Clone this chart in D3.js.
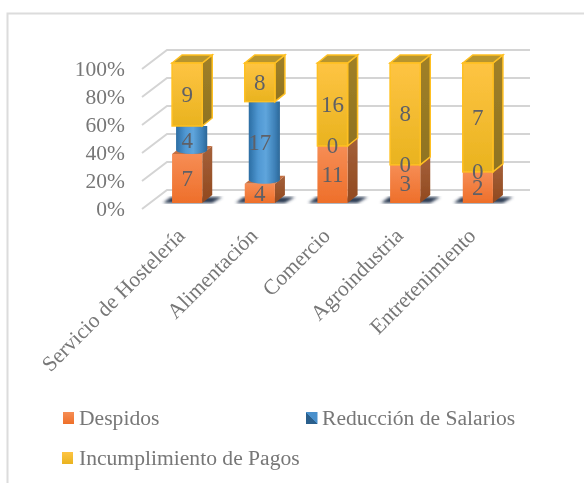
<!DOCTYPE html>
<html>
<head>
<meta charset="utf-8">
<script src="https://cdn.jsdelivr.net/npm/d3@7"></script>
<style>
  html, body { margin: 0; padding: 0; background: #fff; }
  svg { display: block; }
  text { font-family: "Liberation Serif", serif; }
</style>
</head>
<body>
<svg id="chart" width="584" height="483"></svg>
<script>
const categories = ["Servicio de Hostelería", "Alimentación", "Comercio", "Agroindustria", "Entretenimiento"];
const despidos = [7, 4, 11, 3, 2];
const reduccion = [4, 17, 0, 0, 0];
const incumplimiento = [9, 8, 16, 8, 7];
const seriesNames = ["Despidos", "Reducción de Salarios", "Incumplimiento de Pagos"];
const yTicks = [0, 0.2, 0.4, 0.6, 0.8, 1];

const depth = { x: 10, y: -8 };
const backShift = { x: 25, y: -19 };
const textColor = "#777";

const svg = d3.select("#chart");
const defs = svg.append("defs");

function vGrad(id, c1, c2) {
  const g = defs.append("linearGradient").attr("id", id)
    .attr("x1", 0).attr("y1", 0).attr("x2", 0).attr("y2", 1);
  g.append("stop").attr("offset", "0%").attr("stop-color", c1);
  g.append("stop").attr("offset", "100%").attr("stop-color", c2);
}
vGrad("orangeFront", "#f68d55", "#ee6f2a");
vGrad("orangeSide", "#a4603a", "#91491f");
vGrad("yellowFront", "#fec443", "#e9b31f");
vGrad("yellowSide", "#a08028", "#8f7320");

const cyl = defs.append("linearGradient").attr("id", "blueCyl")
  .attr("x1", 0).attr("y1", 0).attr("x2", 1).attr("y2", 0);
[[0, "#2b6da3"], [0.3, "#4f97d2"], [0.55, "#5fa5dc"], [0.85, "#3c7fb6"], [1, "#2b6797"]]
  .forEach(s => cyl.append("stop").attr("offset", s[0]).attr("stop-color", s[1]));

const swatchBlue = defs.append("linearGradient").attr("id", "swatchBlue")
  .attr("x1", 0).attr("y1", 1).attr("x2", 1).attr("y2", 0);
[[0, "#2a5f8c"], [0.5, "#2a5f8c"], [0.5, "#4a90cc"], [1, "#4a90cc"]]
  .forEach(s => swatchBlue.append("stop").attr("offset", s[0]).attr("stop-color", s[1]));

defs.append("filter").attr("id", "soft").append("feGaussianBlur").attr("stdDeviation", 0.45);
defs.append("filter").attr("id", "shadowBlur").append("feGaussianBlur").attr("stdDeviation", 1.5);

const root = svg.append("g").attr("filter", "url(#soft)");

// marco del grafico
root.append("path")
  .attr("d", "M7.5 483V13.5H584")
  .attr("fill", "none").attr("stroke", "#dcdcdc").attr("stroke-width", 2);

const x = d3.scaleBand().domain(categories).range([151, 514]).paddingInner(0.585).paddingOuter(0.29);
const y = d3.scaleLinear().domain([0, 1]).range([203, 63]);

const rows = categories.map((c, i) => ({
  cat: c, Despidos: despidos[i], Reduccion: reduccion[i], Incumplimiento: incumplimiento[i]
}));
const stack = d3.stack().keys(["Despidos", "Reduccion", "Incumplimiento"]).offset(d3.stackOffsetExpand);
const [sDesp, sRed, sInc] = stack(rows);

// rejilla
const grid = root.append("g");
const gridLeft = 142, gridRight = 530;
yTicks.forEach(t => {
  const yy = y(t) + 6;
  grid.append("path")
    .attr("d", `M${gridLeft} ${yy}L${gridLeft + backShift.x} ${yy + backShift.y}H${gridRight}`)
    .attr("fill", "none").attr("stroke", "#d4d4d4").attr("stroke-width", 2);
});

// eje y
const yAxis = d3.axisLeft(y).tickValues(yTicks).tickFormat(d3.format(".0%")).tickSize(0).tickPadding(0);
const yG = root.append("g").attr("transform", "translate(125,6)").call(yAxis);
yG.select(".domain").remove();
yG.selectAll("text").attr("font-size", 21.5).attr("fill", textColor)
  .style("font-family", '"Liberation Serif", serif');

// sombras
root.append("g").attr("filter", "url(#shadowBlur)").selectAll("path").data(categories).join("path")
  .attr("d", c => {
    const x0 = x(c), x1 = x0 + x.bandwidth(), b = y(0);
    return `M${x0 - 9} ${b}L${x0 - 1} ${b - 6}H${x1 + 20}L${x1 + 10} ${b}Z`;
  })
  .attr("fill", "#2c3b52");

function box(g, c, lo, hi, front, side, top, stroke) {
  const x0 = x(c), w = x.bandwidth(), yb = y(lo), yt = y(hi);
  g.append("path")
    .attr("d", `M${x0 + w} ${yt}l${depth.x} ${depth.y}V${yb + depth.y}l${-depth.x} ${-depth.y}Z`)
    .attr("fill", side).attr("stroke", stroke || "none").attr("stroke-width", 1.5);
  g.append("path")
    .attr("d", `M${x0} ${yt}l${depth.x} ${depth.y}h${w}l${-depth.x} ${-depth.y}Z`)
    .attr("fill", top).attr("stroke", stroke || "none").attr("stroke-width", 1.5);
  g.append("rect")
    .attr("x", x0).attr("y", yt).attr("width", w).attr("height", yb - yt)
    .attr("fill", front).attr("stroke", stroke || "none").attr("stroke-width", 1.5);
}

const bars = root.append("g");
categories.forEach((c, i) => {
  const g = bars.append("g");
  box(g, c, sDesp[i][0], sDesp[i][1], "url(#orangeFront)", "url(#orangeSide)", "#c46f42");
  if (reduccion[i] > 0) {
    const x0 = x(c) + 4, w = x.bandwidth() + 1, yb = y(sRed[i][0]) - 4, yt = y(sRed[i][1]);
    g.append("path")
      .attr("d", `M${x0} ${yt}V${yb}a${w / 2} 4 0 0 0 ${w} 0V${yt}Z`)
      .attr("fill", "url(#blueCyl)");
  }
  box(g, c, sInc[i][0], sInc[i][1], "url(#yellowFront)", "url(#yellowSide)", "#b8952f", "#ffc021");
});

// etiquetas de datos
const labels = root.append("g").attr("font-size", 23).attr("fill", "#5f6066").attr("text-anchor", "middle");
function dataLabels(s, vals) {
  labels.selectAll(null).data(categories.map((c, i) => ({ c, i }))).join("text")
    .attr("x", d => x(d.c) + x.bandwidth() / 2)
    .attr("y", d => (y(s[d.i][0]) + y(s[d.i][1])) / 2 + 7.5)
    .text(d => vals[d.i]);
}
dataLabels(sDesp, despidos);
dataLabels(sRed, reduccion);
dataLabels(sInc, incumplimiento);

// eje x
const xLabels = root.append("g").attr("font-size", 21.6).attr("fill", textColor);
xLabels.selectAll("text").data(categories).join("text")
  .attr("text-anchor", "end")
  .attr("transform", c => `translate(${x(c) + x.bandwidth() / 2 - 1},237) rotate(-45)`)
  .text(c => c);

// leyenda
const legendItems = [
  { name: seriesNames[0], sx: 63, sy: 412, w: 11, h: 12, fill: "url(#orangeFront)", tx: 79, ty: 425 },
  { name: seriesNames[1], sx: 306, sy: 412, w: 11.5, h: 12, fill: "url(#swatchBlue)", tx: 322, ty: 425 },
  { name: seriesNames[2], sx: 62, sy: 452, w: 11, h: 12, fill: "url(#yellowFront)", tx: 79, ty: 465 }
];
const leg = root.append("g");
leg.selectAll("rect").data(legendItems).join("rect")
  .attr("x", d => d.sx).attr("y", d => d.sy).attr("width", d => d.w).attr("height", d => d.h)
  .attr("fill", d => d.fill);
leg.selectAll("text").data(legendItems).join("text")
  .attr("x", d => d.tx).attr("y", d => d.ty)
  .attr("font-size", 21.6).attr("fill", textColor)
  .text(d => d.name);
</script>
</body>
</html>
